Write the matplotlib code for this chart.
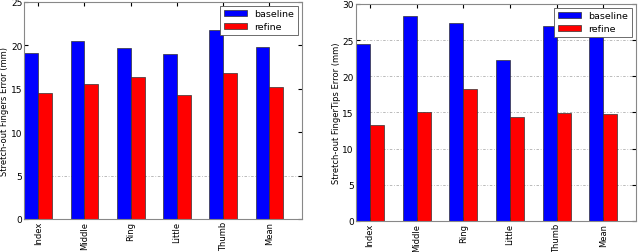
import matplotlib
matplotlib.use("Agg")
import matplotlib.pyplot as plt
import numpy as np

categories = ["Index", "Middle", "Ring", "Little", "Thumb", "Mean"]
fingers_baseline = [19.1, 20.5, 19.7, 19.0, 21.75, 19.8]
fingers_refine = [14.5, 15.5, 16.4, 14.25, 16.85, 15.25]
tips_baseline = [24.5, 28.3, 27.4, 22.3, 27.0, 25.4]
tips_refine = [13.2, 15.1, 18.25, 14.4, 14.9, 14.85]

plt.rcParams['font.family'] = ['DejaVu Sans']
fig = plt.figure(figsize=(6.4, 2.53), dpi=100)
ax1 = fig.add_axes([0.038, 0.1305, 0.4335, 0.858])
ax2 = fig.add_axes([0.556, 0.1226, 0.4375, 0.858])

w = 0.3
x = np.arange(len(categories))

def draw(ax, base, ref, ylim, ylabel, grid_vals):
    ax.set_axisbelow(True)
    for g in grid_vals:
        ax.axhline(g, color='#b0b0b0', linestyle=(0, (3, 2, 1, 2)), linewidth=0.6, zorder=0)
    ax.bar(x, base, w, align='edge', color='#0000ff', edgecolor='#333333', linewidth=0.5, label='baseline')
    ax.bar(x + w, ref, w, align='edge', color='#ff0000', edgecolor='#333333', linewidth=0.5, label='refine')
    ax.set_xlim(0, len(categories))
    ax.set_ylim(*ylim)
    ax.set_xticks(x + w)
    ax.set_xticklabels(categories, rotation=90, fontsize=6)
    ax.tick_params(axis='y', labelsize=6.5, direction='in', length=3, pad=1.5)
    ax.tick_params(axis='x', direction='in', length=3, top=True, pad=1.5)
    ax.tick_params(axis='y', right=True)
    for s in ax.spines.values():
        s.set_color('#888888')
        s.set_linewidth(0.8)
    ax.set_ylabel(ylabel, fontsize=6, labelpad=1.0)
    leg = ax.legend(loc='upper right', fontsize=6.8, fancybox=False, framealpha=1,
                    edgecolor='#555555', handlelength=2.4, borderaxespad=0.4,
                    handletextpad=0.8, labelspacing=0.4)
    leg.get_frame().set_linewidth(0.6)

draw(ax1, fingers_baseline, fingers_refine, (0, 25), 'Stretch-out Fingers Error (mm)', [5])
draw(ax2, tips_baseline, tips_refine, (0, 30), 'Stretch-out FingerTips Error (mm)', [5, 10, 15, 20, 25])

fig.savefig('out.png', dpi=100)
